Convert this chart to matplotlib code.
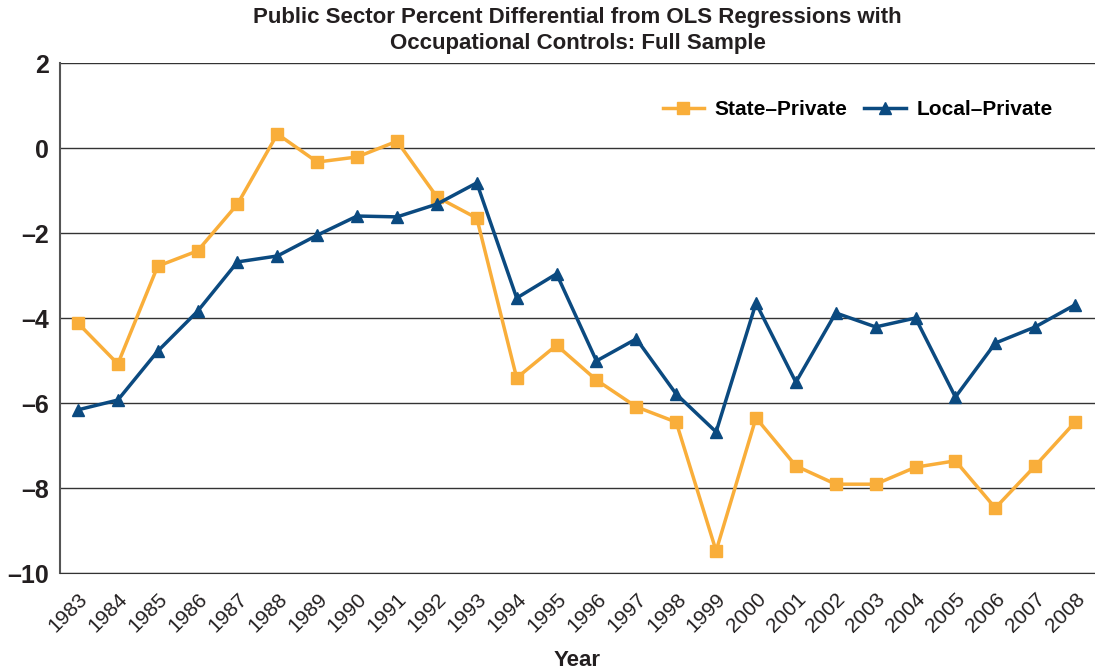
import numpy as np
import matplotlib.pyplot as plt

# data
years = list(range(1983, 2009))
state_private = [-4.12, -5.08, -2.78, -2.42, -1.32, 0.33, -0.33, -0.21, 0.16, -1.15,
                 -1.65, -5.41, -4.64, -5.46, -6.09, -6.45, -9.48, -6.35, -7.48, -7.91,
                 -7.91, -7.51, -7.36, -8.47, -7.48, -6.45]
local_private = [-6.16, -5.93, -4.78, -3.84, -2.68, -2.54, -2.05, -1.60, -1.62, -1.32,
                 -0.82, -3.53, -2.96, -5.01, -4.49, -5.79, -6.68, -3.65, -5.51, -3.88,
                 -4.21, -4.00, -5.86, -4.59, -4.21, -3.69]
yticks = [2, 0, -2, -4, -6, -8, -10]

orange = '#F9AE3A'
blue = '#0B4A80'

plt.rcParams['font.family'] = ['Liberation Sans', 'DejaVu Sans']

fig = plt.figure(figsize=(10.95, 6.72), dpi=100)
ax = fig.add_axes([0.0548, 0.1473, 0.9452, 0.7589])

ax.plot(years, state_private, color=orange, lw=2.5, marker='s', ms=9, label='State\u2013Private')
ax.plot(years, local_private, color=blue, lw=2.5, marker='^', ms=9, label='Local\u2013Private')

ax.set_ylim(-10, 2)
ax.set_xlim(1983 - 0.45, 2008 + 0.5)
ax.set_yticks(yticks)
ax.set_yticklabels([str(t).replace('-', '\u2013') for t in yticks], fontsize=18, fontweight='bold', color='#231f20')
ax.set_xticks(years)
ax.set_xticklabels([str(y) for y in years], rotation=45, ha='right', rotation_mode='anchor',
                   fontsize=15, color='#231f20')
ax.tick_params(length=0, pad=8)
ax.tick_params(axis='x', pad=12)

ax.grid(axis='y', color='#333333', lw=1)
ax.set_axisbelow(True)
for s in ['top', 'right']:
    ax.spines[s].set_visible(False)
ax.spines['left'].set_color('#555555')
ax.spines['bottom'].set_color('#333333')
ax.spines['left'].set_linewidth(1.5)

ax.set_xlabel('Year', fontsize=16, fontweight='bold', color='#231f20', labelpad=10)
ax.set_title('Public Sector Percent Differential from OLS Regressions with\nOccupational Controls: Full Sample',
             fontsize=16, fontweight='bold', color='#231f20', pad=10, x=0.5, linespacing=1.3)

leg = ax.legend(loc='upper right', ncol=2, frameon=True, prop={'weight': 'bold', 'size': 15},
                bbox_to_anchor=(0.975, 0.96), handlelength=2, columnspacing=0.8, handletextpad=0.5,
                borderpad=0.3, edgecolor='white', fancybox=False)
leg.get_frame().set_facecolor('white')
leg.get_frame().set_alpha(1)

fig.savefig('out.png', dpi=100)
